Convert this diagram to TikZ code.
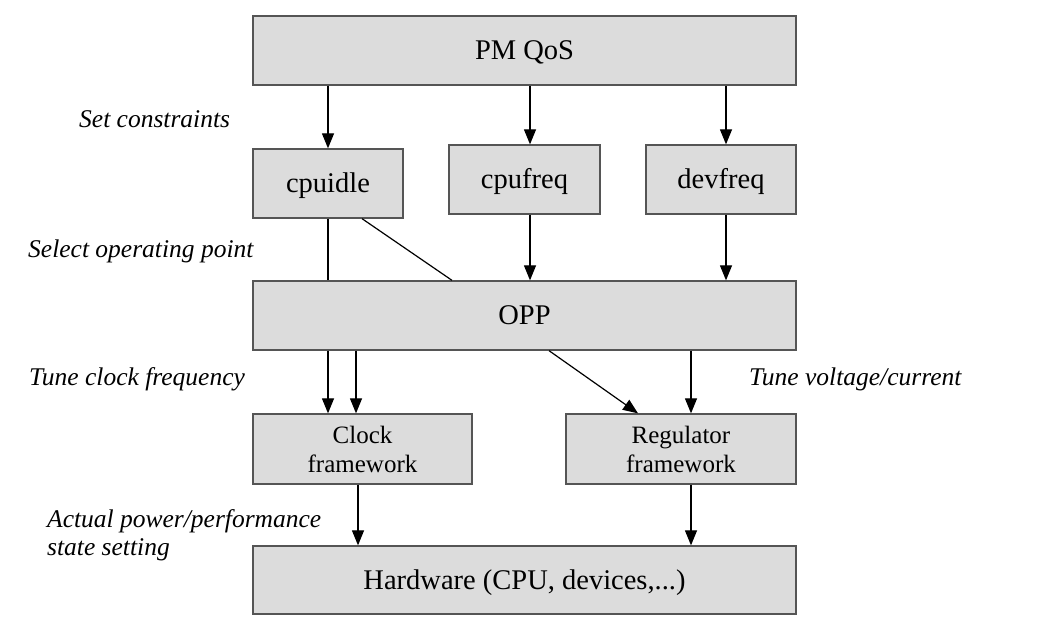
\documentclass[tikz,border=0pt]{standalone}
\usepackage{fontspec}
\setmainfont{Liberation Serif}
\usetikzlibrary{arrows.meta,calc}
\definecolor{boxfill}{HTML}{DCDCDC}
\definecolor{boxline}{HTML}{555555}
\tikzset{
  basebox/.style={draw=boxline,fill=boxfill,line width=1.3pt,inner sep=0pt,anchor=center},
  box/.style={basebox,text height=20pt,text depth=2pt,
    font=\fontsize{28.5}{32}\selectfont},
  smallbox/.style={basebox,align=center,font=\fontsize{25}{29}\selectfont},
  lbl/.style={anchor=west,inner sep=0pt,font=\fontsize{25.5}{28}\selectfont\itshape},
  arr/.style={line width=1.2pt,-{Triangle[length=15pt,width=12pt]}},
  ln/.style={line width=1.2pt},
}
\begin{document}
\begin{tikzpicture}[x=1pt,y=-1pt]
\useasboundingbox (0,0) rectangle (1053,637);
\node[box,minimum width=543,minimum height=69] (pmqos) at (524.5,50.5) {PM QoS};
\node[box,minimum width=150,minimum height=69] (cpuidle) at (328,183.5) {cpuidle};
\node[box,minimum width=151,minimum height=69] (cpufreq) at (524.5,179.5) {cpufreq};
\node[box,minimum width=150,minimum height=69] (devfreq) at (721,179.5) {devfreq};
\node[box,minimum width=543,minimum height=69] (opp) at (524.5,315.5) {OPP};
\node[smallbox,minimum width=219,minimum height=70] (clock) at (362.5,449) {Clock\\framework};
\node[smallbox,minimum width=230,minimum height=70] (reg) at (681,449) {Regulator\\framework};
\node[box,minimum width=543,minimum height=68] (hw) at (524.5,580) {Hardware (CPU, devices,...)};

\node[lbl] (l1) at (79,119) {Set constraints};
\node[lbl] (l2) at (28,251) {Select operating point};
\node[lbl] (l3) at (29,379) {Tune clock frequency};
\node[lbl] (l4) at (749,379) {Tune voltage/current};
\node[lbl,align=left] (l5) at (47,535) {Actual power/performance\\state setting};

% PM QoS -> users
\draw[arr] (pmqos.south -| cpuidle.north) -- (cpuidle.north);
\draw[arr] ([xshift=5.5pt]pmqos.south -| cpufreq.north) -- ([xshift=5.5pt]cpufreq.north);
\draw[arr] ([xshift=5pt]pmqos.south -| devfreq.north) -- ([xshift=5pt]devfreq.north);
% users -> OPP
\draw[ln] (cpuidle.south) -- (cpuidle.south |- opp.north);
\draw[ln] ([xshift=34pt]cpuidle.south) -- ([xshift=-72.5pt]opp.north);
\draw[arr] ([xshift=5.5pt]cpufreq.south) -- ([xshift=5.5pt]cpufreq.south |- opp.north);
\draw[arr] ([xshift=5pt]devfreq.south) -- ([xshift=5pt]devfreq.south |- opp.north);
% OPP -> frameworks
\draw[arr] ([xshift=-34.5pt]clock.north |- opp.south) -- ([xshift=-34.5pt]clock.north);
\draw[arr] ([xshift=-6.5pt]clock.north |- opp.south) -- ([xshift=-6.5pt]clock.north);
\draw[arr] ([xshift=24.5pt]opp.south) -- ([xshift=-43pt]reg.north);
\draw[arr] ([xshift=10pt]reg.north |- opp.south) -- ([xshift=10pt]reg.north);
% frameworks -> hardware
\draw[arr] ([xshift=-4.5pt]clock.south) -- ([xshift=-4.5pt]clock.south |- hw.north);
\draw[arr] ([xshift=10pt]reg.south) -- ([xshift=10pt]reg.south |- hw.north);
\end{tikzpicture}
\end{document}
